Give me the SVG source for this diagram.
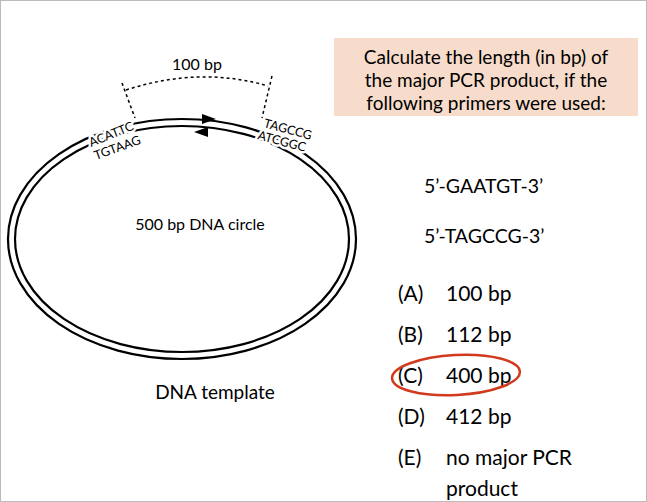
<svg xmlns="http://www.w3.org/2000/svg" width="647" height="502" viewBox="0 0 647 502">
<style>
text{font-family:Lato,"Open Sans",sans-serif;fill:#000}
.seq{font-size:12.5px;stroke:#fff;stroke-width:5px;paint-order:stroke;}
.big{font-size:21px}
.dot{fill:none;stroke:#000;stroke-width:1.5;stroke-dasharray:3 3}
</style>
<rect x="0.5" y="0.5" width="646" height="501" fill="#fff" stroke="#bbb"/>
<g id="circle">
<ellipse cx="182" cy="239" rx="174" ry="120" fill="none" stroke="#000" stroke-width="2.2"/>
<ellipse cx="182" cy="239" rx="167" ry="113" fill="none" stroke="#000" stroke-width="2.2"/>
<text x="200" y="230" font-size="16" text-anchor="middle">500 bp DNA circle</text>
</g>
<g id="connectors">
<polygon points="202,114 216,119 202,124" fill="#000"/>
<polygon points="208,127 194,132 208,137" fill="#000"/>
<path class="dot" d="M122,83 L135,118"/>
<path class="dot" d="M272,76 L262,118"/>
<path class="dot" d="M126,90 Q200,66 268,86"/>
</g>
<g id="labels">
<text class="seq" transform="translate(91,147) rotate(-22)">ACATTC</text>
<text class="seq" transform="translate(96,160) rotate(-20)">TGTAAG</text>
<text class="seq" transform="translate(263,127) rotate(15)">TAGCCG</text>
<text class="seq" transform="translate(257,139) rotate(15)">ATCGGC</text>
<text x="197" y="70" font-size="16" text-anchor="middle">100 bp</text>
<text x="215" y="399" font-size="19" text-anchor="middle">DNA template</text>
</g>
<g id="question">
<rect x="334" y="38" width="304" height="78" fill="#f8dccb"/>
<text font-size="19" text-anchor="middle"><tspan x="486" y="64">Calculate the length (in bp) of</tspan><tspan x="486" y="87">the major PCR product, if the</tspan><tspan x="486" y="110">following primers were used:</tspan></text>
<text x="424" y="193" font-size="19.5">5’-GAATGT-3’</text>
<text x="424" y="243" font-size="19.5">5’-TAGCCG-3’</text>
</g>
<g id="answers">
<text class="big" x="398" y="301">(A)</text><text class="big" x="446" y="301">100 bp</text>
<text class="big" x="398" y="342">(B)</text><text class="big" x="446" y="342">112 bp</text>
<text class="big" x="398" y="383">(C)</text><text class="big" x="446" y="383">400 bp</text>
<text class="big" x="398" y="424">(D)</text><text class="big" x="446" y="424">412 bp</text>
<text class="big" x="398" y="465">(E)</text><text class="big" x="446" y="465">no major PCR</text>
<text class="big" x="446" y="496">product</text>
<ellipse cx="456" cy="375" rx="64" ry="20" transform="rotate(-3 456 375)" fill="none" stroke="#d23a1e" stroke-width="2.5"/>
</g>
</svg>
